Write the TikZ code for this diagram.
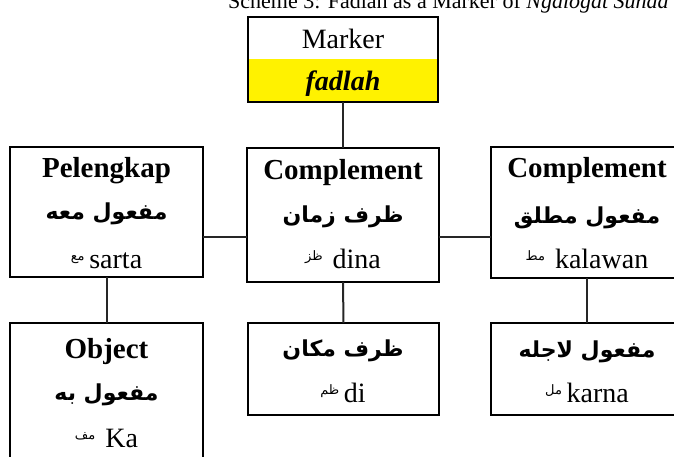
\documentclass[tikz,border=0pt]{standalone}
\usepackage{fontspec}
\setmainfont{Liberation Serif}
\newfontfamily\arabicfont[Script=Arabic]{DejaVu Sans}
\TeXXeTstate=1
\newcommand{\ar}[1]{{\arabicfont\beginR #1\endR}}
\newcommand{\abbr}[1]{\raisebox{0.55ex}{\fontsize{13}{14}\selectfont\ar{#1}}}
\begin{document}
\begin{tikzpicture}[x=1pt,y=-1pt,
  box/.style={draw=black, line width=2.8pt, inner sep=0pt, outer sep=0pt, anchor=north west},
  conn/.style={draw=black!85, line width=2pt},
  head/.style={anchor=base, font=\fontsize{29}{31}\selectfont\bfseries},
  arab/.style={anchor=base, font=\fontsize{22}{24}\selectfont\bfseries},
  word/.style={anchor=base, font=\fontsize{28}{30}\selectfont}]
\useasboundingbox (0,0) rectangle (674,457);
% title (cut at top)
\node[anchor=base west, font=\fontsize{22}{24}\selectfont, inner sep=0pt] (title) at (228,9) {Scheme 3: Fadlah as a Marker of \textit{Ngalogat Sunda}};
% marker box
\fill[yellow] (248,59) rectangle (438,102);
\node[box, minimum width=190pt, minimum height=85pt] (mk) at (248,17) {};
\node[word] (mkt) at (343,49) {Marker};
\node[word, font=\fontsize{28}{30}\selectfont\bfseries\itshape] (mkf) at (343,91) {fadlah};
% row 1
\node[box, minimum width=193pt, minimum height=130pt] (pel) at (10,147) {};
\node[box, minimum width=192pt, minimum height=134pt] (cz) at (247,148) {};
\node[box, minimum width=192pt, minimum height=131pt] (rt) at (491,147) {};
% row 2
\node[box, minimum width=193pt, minimum height=145pt] (obj) at (10,323) {};
\node[box, minimum width=191pt, minimum height=92pt] (czb) at (248,323) {};
\node[box, minimum width=192pt, minimum height=92pt] (rtb) at (491,323) {};
% texts row 1
\node[head] (pelh) at (106.5,178) {Pelengkap};
\node[arab] (pela) at (106.5,219) {\ar{مفعول معه}};
\node[word] (pelw) at (106.5,268) {\abbr{مع}\,sarta};
\node[head] (czh) at (343,179) {Complement};
\node[arab] (cza) at (343,222) {\ar{ظرف زمان}};
\node[word] (czw) at (343,268) {\abbr{ظز}\hspace{10pt}dina};
\node[head] (rth) at (587,178) {Complement};
\node[arab] (rta) at (587,223) {\ar{مفعول مطلق}};
\node[word] (rtw) at (587,268) {\abbr{مط}\hspace{10pt}kalawan};
% texts row 2
\node[head] (objh) at (106.5,358) {Object};
\node[arab] (obja) at (106.5,400) {\ar{مفعول به}};
\node[word] (objw) at (106.5,447) {\abbr{مف}\hspace{10pt}Ka};
\node[arab] (czba) at (343,356) {\ar{ظرف مكان}};
\node[word] (czbw) at (343,402) {\abbr{ظم}\,di};
\node[arab] (rtba) at (587,357) {\ar{مفعول لاجله}};
\node[word] (rtbw) at (587,402) {\abbr{مل}\,karna};
% connectors
\coordinate (lvl) at (0,237);
\draw[conn] (mk.south) -- (cz.north);
\draw[conn] (pel.east |- lvl) -- (cz.west |- lvl);
\draw[conn] (cz.east |- lvl) -- (rt.west |- lvl);
\draw[conn] (pel.south) -- (obj.north);
\draw[conn] (cz.south) -- (czb.north);
\draw[conn] (rt.south) -- (rtb.north);
\end{tikzpicture}
\end{document}
